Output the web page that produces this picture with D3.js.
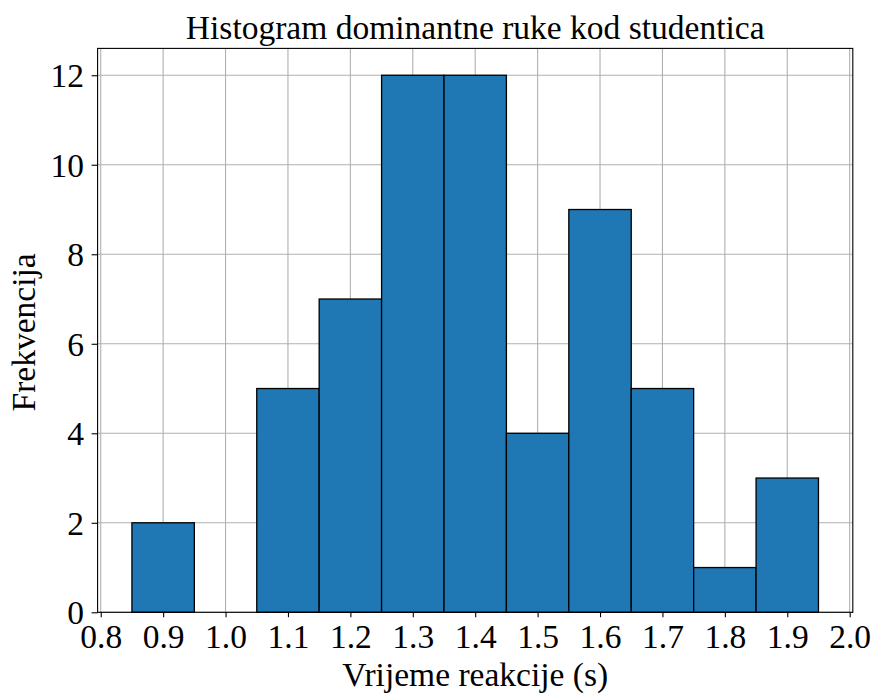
<!DOCTYPE html>
<html>
<head>
<meta charset="utf-8">
<script src="https://cdn.jsdelivr.net/npm/d3@7"></script>
<style>
  body { margin: 0; background: #fff; }
</style>
</head>
<body>
<svg id="chart" width="874" height="697" font-family="Liberation Serif, Times New Roman, serif"></svg>
<script>
// histogram bins (left edges) and counts
const binStarts = [0.85, 0.95, 1.05, 1.15, 1.25, 1.35, 1.45, 1.55, 1.65, 1.75, 1.85]
const binWidth = 0.1
const counts = [2, 0, 5, 7, 12, 12, 4, 9, 5, 1, 3]
const xTicks = [0.8, 0.9, 1.0, 1.1, 1.2, 1.3, 1.4, 1.5, 1.6, 1.7, 1.8, 1.9, 2.0]
const yTicks = [0, 2, 4, 6, 8, 10, 12]

const titleText = 'Histogram dominantne ruke kod studentica'
const xLabel = 'Vrijeme reakcije (s)'
const yLabel = 'Frekvencija'

const serif = '"Liberation Serif", "Times New Roman", serif'
const fontSize = 33.5
const box = { left: 97.6, right: 852.8, top: 48.4, bottom: 612.3 }

const svg = d3.select('#chart')

const x = d3.scaleLinear().domain([0.795, 2.005]).range([box.left, box.right])
const y = d3.scaleLinear().domain([0, 12.6]).range([box.bottom, box.top])

// grid (below bars)
const grid = svg.append('g').attr('id', 'grid')
grid.selectAll('.vgrid')
  .data(xTicks)
  .join('line')
  .attr('class', 'vgrid')
  .attr('x1', (d) => x(d)).attr('x2', (d) => x(d))
  .attr('y1', box.top).attr('y2', box.bottom)
  .attr('stroke', '#b0b0b0').attr('stroke-width', 1.1)
grid.selectAll('.hgrid')
  .data(yTicks)
  .join('line')
  .attr('class', 'hgrid')
  .attr('y1', (d) => y(d)).attr('y2', (d) => y(d))
  .attr('x1', box.left).attr('x2', box.right)
  .attr('stroke', '#b0b0b0').attr('stroke-width', 1.1)

// bars
const bins = binStarts.map((s, i) => ({ x0: s, x1: s + binWidth, n: counts[i] }))
svg.append('g')
  .attr('id', 'bars')
  .selectAll('rect')
  .data(bins.filter((d) => d.n > 0))
  .join('rect')
  .attr('x', (d) => x(d.x0))
  .attr('y', (d) => y(d.n))
  .attr('width', (d) => x(d.x1) - x(d.x0))
  .attr('height', (d) => y(0) - y(d.n))
  .attr('fill', '#1f77b4')
  .attr('stroke', '#000')
  .attr('stroke-width', 1.3)

// spines
svg.append('rect')
  .attr('x', box.left).attr('y', box.top)
  .attr('width', box.right - box.left).attr('height', box.bottom - box.top)
  .attr('fill', 'none').attr('stroke', '#000').attr('stroke-width', 1.1)

// x axis
const xAxis = d3.axisBottom(x)
  .tickValues(xTicks)
  .tickFormat(d3.format('.1f'))
  .tickSize(4.9)
  .tickSizeOuter(0)
const gx = svg.append('g')
  .attr('transform', `translate(0,${box.bottom})`)
  .call(xAxis)
gx.attr('font-family', serif).attr('font-size', fontSize)
gx.select('.domain').remove()
gx.selectAll('line').attr('stroke', '#000').attr('stroke-width', 1.1)
gx.selectAll('text')
  .attr('y', 35.8).attr('dy', null)
  .attr('fill', '#000')

// y axis
const yAxis = d3.axisLeft(y)
  .tickValues(yTicks)
  .tickFormat(d3.format('d'))
  .tickSize(6)
  .tickSizeOuter(0)
  .tickPadding(7.5)
const gy = svg.append('g')
  .attr('transform', `translate(${box.left},0)`)
  .call(yAxis)
gy.attr('font-family', serif).attr('font-size', fontSize)
gy.select('.domain').remove()
gy.selectAll('line').attr('stroke', '#000').attr('stroke-width', 1.1)
gy.selectAll('text')
  .attr('dy', '0.34em')
  .attr('fill', '#000')

// title and labels
const cx = (box.left + box.right) / 2
svg.append('text')
  .attr('x', cx).attr('y', 38.5)
  .attr('text-anchor', 'middle')
  .attr('font-family', serif).attr('font-size', fontSize)
  .text(titleText)

svg.append('text')
  .attr('x', cx).attr('y', 685.5)
  .attr('text-anchor', 'middle')
  .attr('font-family', serif).attr('font-size', fontSize)
  .text(xLabel)

svg.append('text')
  .attr('transform', `translate(35,${(box.top + box.bottom) / 2 + 2}) rotate(-90)`)
  .attr('text-anchor', 'middle')
  .attr('font-family', serif).attr('font-size', fontSize)
  .text(yLabel)
</script>
</body>
</html>
